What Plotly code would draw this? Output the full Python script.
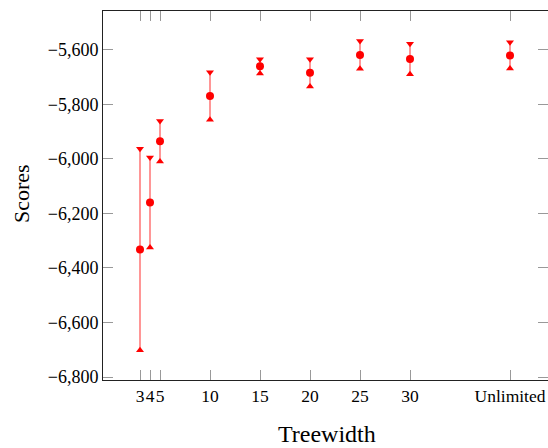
import plotly.graph_objects as go

treewidth = [3, 4, 5, 10, 15, 20, 25, 30, 40]
tick_labels = ["3", "4", "5", "10", "15", "20", "25", "30", "Unlimited"]
scores = [-6332, -6160, -5935, -5769, -5660, -5684, -5618, -5633, -5620]
errors = [370, 165, 74, 87, 26, 50, 51, 56, 48]
y_ticks = [-6800, -6600, -6400, -6200, -6000, -5800, -5600]

upper = [s + e for s, e in zip(scores, errors)]
lower = [s - e for s, e in zip(scores, errors)]

FONT = "Liberation Serif"
RED = "#ff0000"

fig = go.Figure()
fig.add_trace(go.Scatter(
    x=treewidth, y=scores, mode="markers",
    marker=dict(symbol="circle", size=8, color=RED),
    error_y=dict(type="data", array=errors, visible=True, width=0,
                 thickness=1.5, color="rgba(255,0,0,0.55)"),
    showlegend=False, cliponaxis=False))
fig.add_trace(go.Scatter(
    x=treewidth, y=upper, mode="markers",
    marker=dict(symbol="triangle-down", size=7, color=RED),
    showlegend=False))
fig.add_trace(go.Scatter(
    x=treewidth, y=lower, mode="markers",
    marker=dict(symbol="triangle-up", size=7, color=RED),
    showlegend=False))
fig.add_trace(go.Scatter(x=[treewidth[0]], y=[scores[0]], yaxis="y2",
                         mode="markers", marker=dict(opacity=0),
                         showlegend=False, hoverinfo="skip"))

fig.update_layout(
    width=548, height=448,
    margin=dict(l=103, r=0, t=11, b=68),
    paper_bgcolor="white", plot_bgcolor="white",
    font=dict(family=FONT, size=17.5, color="black"),
    xaxis=dict(range=[-0.7, 43.8], tickvals=treewidth, ticktext=tick_labels,
               tickangle=0, automargin=False,
               ticks="inside", ticklen=10, tickcolor="#999999", tickwidth=1,
               showline=True, linecolor="#222222", linewidth=1,
               mirror="ticks", showgrid=False, zeroline=False,
               tickfont=dict(family=FONT, size=17.5, color="black")),
    yaxis=dict(range=[-6811, -5457], tickvals=y_ticks,
               tickformat=",d", automargin=False,
               ticks="inside", ticklen=10, tickcolor="#999999", tickwidth=1,
               showline=True, linecolor="#222222", linewidth=1,
               mirror=False, showgrid=False, zeroline=False,
               tickfont=dict(family=FONT, size=18, color="black")),
    yaxis2=dict(overlaying="y", side="right", matches="y",
                tickvals=y_ticks,
                ticks="inside", ticklen=10, tickcolor="#999999", tickwidth=1,
                showticklabels=False, showline=False, showgrid=False,
                zeroline=False),
    annotations=[
        dict(text="Treewidth", x=327, y=434, xref="paper", yref="paper",
             xanchor="center", yanchor="middle",
             showarrow=False, font=dict(family=FONT, size=24)),
        dict(text="Scores", x=21, y=194, xref="paper", yref="paper",
             xanchor="center", yanchor="middle",
             showarrow=False, textangle=-90, font=dict(family=FONT, size=22)),
    ],
)

pw = 548 - 103 - 0
ph = 448 - 11 - 68
for a in fig.layout.annotations:
    px, py = a.x, a.y
    a.x = (px - 103) / pw
    a.y = (448 - 68 - py) / ph

fig.write_html("out.html")
